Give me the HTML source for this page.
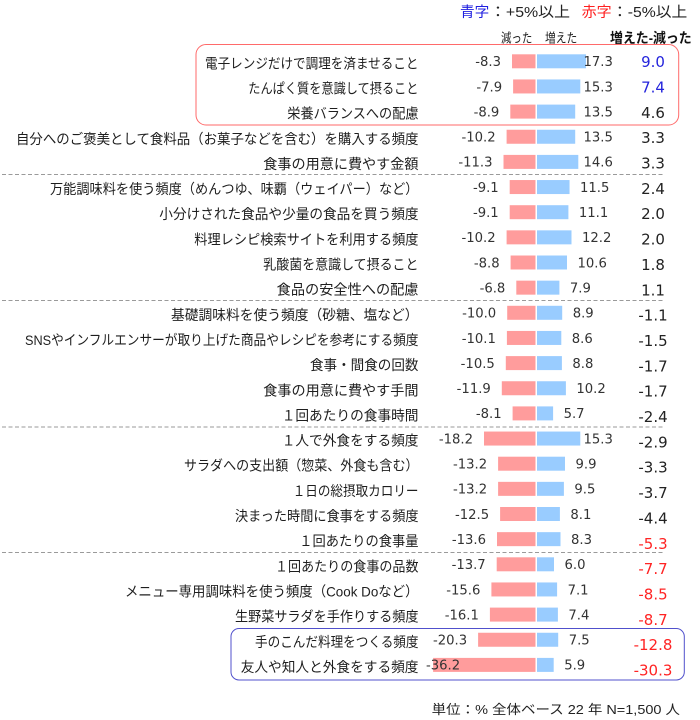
<!DOCTYPE html>
<html><head><meta charset="utf-8"><style>
html,body{margin:0;padding:0;background:#fff;}
svg{display:block;}
.lb{font-family:"Liberation Sans","Noto Sans CJK JP",sans-serif;font-size:14px;fill:#1e1e1e;}
.nm{font-family:"DejaVu Sans","Liberation Sans",sans-serif;font-size:13.2px;fill:#333;}
.rv{font-family:"DejaVu Sans","Liberation Sans",sans-serif;font-size:15px;fill:#222;}
.hd{font-family:"Liberation Sans","Noto Sans CJK JP",sans-serif;fill:#222;}
.r{fill:#FF9C9C;} .b{fill:#99CCFF;}
</style></head><body>
<svg width="700" height="720" viewBox="0 0 700 720" xmlns="http://www.w3.org/2000/svg">
<!-- legend -->
<text class="hd" x="460" y="17" font-size="14.5" textLength="29.3" lengthAdjust="spacingAndGlyphs" style="fill:#1f1fe0">青字</text>
<text class="hd" x="490" y="17" font-size="14.5" textLength="80" lengthAdjust="spacingAndGlyphs">：+5%以上</text>
<text class="hd" x="581.7" y="17" font-size="14.5" textLength="30" lengthAdjust="spacingAndGlyphs" style="fill:#ff2020">赤字</text>
<text class="hd" x="612" y="17" font-size="14.5" textLength="75.3" lengthAdjust="spacingAndGlyphs">：-5%以上</text>
<!-- headers -->
<text class="hd" x="501" y="42.4" font-size="13" textLength="31.3" lengthAdjust="spacingAndGlyphs">減った</text>
<text class="hd" x="545" y="42.4" font-size="13" textLength="32.3" lengthAdjust="spacingAndGlyphs">増えた</text>
<text class="hd" x="610" y="43" font-size="14" font-weight="bold" textLength="81.7" lengthAdjust="spacingAndGlyphs" style="fill:#111">増えた-減った</text>

<!-- boxes -->
<rect x="196" y="44.5" width="482.7" height="80.5" rx="10" ry="10" fill="none" stroke="#FF6A6A" stroke-width="1"/>
<rect x="231" y="628.5" width="453.3" height="51.5" rx="8" ry="8" fill="none" stroke="#5050CC" stroke-width="1"/>

<!-- dashed separators -->
<g stroke="#9a9a9a" stroke-width="1" stroke-dasharray="4,2.5">
<line x1="2" y1="174.5" x2="664" y2="174.5"/>
<line x1="2" y1="300.5" x2="664" y2="300.5"/>
<line x1="2" y1="427" x2="664" y2="427"/>
<line x1="2" y1="552.5" x2="664" y2="552.5"/>
</g>

<!-- category labels -->
<text class="lb" x="205" y="68.3" textLength="213.5" lengthAdjust="spacingAndGlyphs">電子レンジだけで調理を済ませること</text>
<text class="lb" x="248.3" y="93.45" textLength="170.2" lengthAdjust="spacingAndGlyphs">たんぱく質を意識して摂ること</text>
<text class="lb" x="287.3" y="118.6" textLength="131.2" lengthAdjust="spacingAndGlyphs">栄養バランスへの配慮</text>
<text class="lb" x="16" y="143.75" textLength="402.5" lengthAdjust="spacingAndGlyphs">自分へのご褒美として食料品（お菓子などを含む）を購入する頻度</text>
<text class="lb" x="263.3" y="168.9" textLength="155.2" lengthAdjust="spacingAndGlyphs">食事の用意に費やす金額</text>
<text class="lb" x="50" y="194.05" textLength="368.5" lengthAdjust="spacingAndGlyphs">万能調味料を使う頻度（めんつゆ、味覇（ウェイパー）など）</text>
<text class="lb" x="159.3" y="219.2" textLength="259.2" lengthAdjust="spacingAndGlyphs">小分けされた食品や少量の食品を買う頻度</text>
<text class="lb" x="194.3" y="244.35" textLength="224.2" lengthAdjust="spacingAndGlyphs">料理レシピ検索サイトを利用する頻度</text>
<text class="lb" x="263.3" y="269.5" textLength="155.2" lengthAdjust="spacingAndGlyphs">乳酸菌を意識して摂ること</text>
<text class="lb" x="276.7" y="294.65" textLength="141.8" lengthAdjust="spacingAndGlyphs">食品の安全性への配慮</text>
<text class="lb" x="171" y="319.8" textLength="247.5" lengthAdjust="spacingAndGlyphs">基礎調味料を使う頻度（砂糖、塩など）</text>
<text class="lb" x="25" y="344.95" textLength="393.5" lengthAdjust="spacingAndGlyphs">SNSやインフルエンサーが取り上げた商品やレシピを参考にする頻度</text>
<text class="lb" x="310" y="370.1" textLength="108.5" lengthAdjust="spacingAndGlyphs">食事・間食の回数</text>
<text class="lb" x="263.3" y="395.25" textLength="155.2" lengthAdjust="spacingAndGlyphs">食事の用意に費やす手間</text>
<text class="lb" x="281.7" y="420.4" textLength="136.8" lengthAdjust="spacingAndGlyphs">１回あたりの食事時間</text>
<text class="lb" x="281.7" y="445.55" textLength="136.8" lengthAdjust="spacingAndGlyphs">１人で外食をする頻度</text>
<text class="lb" x="184" y="470.7" textLength="234.5" lengthAdjust="spacingAndGlyphs">サラダへの支出額（惣菜、外食も含む）</text>
<text class="lb" x="292.7" y="495.85" textLength="125.8" lengthAdjust="spacingAndGlyphs">１日の総摂取カロリー</text>
<text class="lb" x="235" y="521" textLength="183.5" lengthAdjust="spacingAndGlyphs">決まった時間に食事をする頻度</text>
<text class="lb" x="299.3" y="546.15" textLength="119.2" lengthAdjust="spacingAndGlyphs">１回あたりの食事量</text>
<text class="lb" x="275" y="571.3" textLength="143.5" lengthAdjust="spacingAndGlyphs">１回あたりの食事の品数</text>
<text class="lb" x="125" y="596.45" textLength="293.5" lengthAdjust="spacingAndGlyphs">メニュー専用調味料を使う頻度（Cook Doなど）</text>
<text class="lb" x="235" y="621.6" textLength="183.5" lengthAdjust="spacingAndGlyphs">生野菜サラダを手作りする頻度</text>
<text class="lb" x="255" y="646.75" textLength="163.5" lengthAdjust="spacingAndGlyphs">手のこんだ料理をつくる頻度</text>
<text class="lb" x="240.7" y="671.9" textLength="177.8" lengthAdjust="spacingAndGlyphs">友人や知人と外食をする頻度</text>

<!-- bars -->
<g>
<rect class="r" x="512.0" y="54.3" width="23.5" height="14"/><rect class="b" x="537" y="54.3" width="48.96" height="14"/>
<rect class="r" x="513.1" y="79.45" width="22.4" height="14"/><rect class="b" x="537" y="79.45" width="43.3" height="14"/>
<rect class="r" x="510.3" y="104.6" width="25.2" height="14"/><rect class="b" x="537" y="104.6" width="38.2" height="14"/>
<rect class="r" x="506.6" y="129.75" width="28.9" height="14"/><rect class="b" x="537" y="129.75" width="38.2" height="14"/>
<rect class="r" x="503.5" y="154.9" width="32.0" height="14"/><rect class="b" x="537" y="154.9" width="41.3" height="14"/>
<rect class="r" x="509.7" y="180.05" width="25.8" height="14"/><rect class="b" x="537" y="180.05" width="32.55" height="14"/>
<rect class="r" x="509.7" y="205.2" width="25.8" height="14"/><rect class="b" x="537" y="205.2" width="31.4" height="14"/>
<rect class="r" x="506.6" y="230.35" width="28.9" height="14"/><rect class="b" x="537" y="230.35" width="34.5" height="14"/>
<rect class="r" x="510.6" y="255.5" width="24.9" height="14"/><rect class="b" x="537" y="255.5" width="30.0" height="14"/>
<rect class="r" x="516.3" y="280.65" width="19.2" height="14"/><rect class="b" x="537" y="280.65" width="22.4" height="14"/>
<rect class="r" x="507.2" y="305.8" width="28.3" height="14"/><rect class="b" x="537" y="305.8" width="25.2" height="14"/>
<rect class="r" x="506.9" y="330.95" width="28.6" height="14"/><rect class="b" x="537" y="330.95" width="24.3" height="14"/>
<rect class="r" x="505.8" y="356.1" width="29.7" height="14"/><rect class="b" x="537" y="356.1" width="24.9" height="14"/>
<rect class="r" x="501.8" y="381.25" width="33.7" height="14"/><rect class="b" x="537" y="381.25" width="28.9" height="14"/>
<rect class="r" x="512.6" y="406.4" width="22.9" height="14"/><rect class="b" x="537" y="406.4" width="16.1" height="14"/>
<rect class="r" x="484.0" y="431.55" width="51.5" height="14"/><rect class="b" x="537" y="431.55" width="43.3" height="14"/>
<rect class="r" x="498.1" y="456.7" width="37.4" height="14"/><rect class="b" x="537" y="456.7" width="28.0" height="14"/>
<rect class="r" x="498.1" y="481.85" width="37.4" height="14"/><rect class="b" x="537" y="481.85" width="26.9" height="14"/>
<rect class="r" x="500.1" y="507.0" width="35.4" height="14"/><rect class="b" x="537" y="507.0" width="22.9" height="14"/>
<rect class="r" x="497.0" y="532.15" width="38.5" height="14"/><rect class="b" x="537" y="532.15" width="23.5" height="14"/>
<rect class="r" x="496.7" y="557.3" width="38.8" height="14"/><rect class="b" x="537" y="557.3" width="17.0" height="14"/>
<rect class="r" x="491.4" y="582.45" width="44.1" height="14"/><rect class="b" x="537" y="582.45" width="20.1" height="14"/>
<rect class="r" x="489.9" y="607.6" width="45.6" height="14"/><rect class="b" x="537" y="607.6" width="20.9" height="14"/>
<rect class="r" x="478.1" y="632.75" width="57.4" height="14"/><rect class="b" x="537" y="632.75" width="21.2" height="14"/>
<rect class="r" x="433.1" y="657.9" width="102.4" height="14"/><rect class="b" x="537" y="657.9" width="16.7" height="14"/>
</g>

<!-- negative values -->
<g class="nm" text-anchor="end">
<text class="nm" x="501.0" y="66.1">-8.3</text>
<text class="nm" x="502.1" y="91.25">-7.9</text>
<text class="nm" x="499.3" y="116.4">-8.9</text>
<text class="nm" x="495.6" y="141.55">-10.2</text>
<text class="nm" x="492.5" y="166.7">-11.3</text>
<text class="nm" x="498.7" y="191.85">-9.1</text>
<text class="nm" x="498.7" y="217.0">-9.1</text>
<text class="nm" x="495.6" y="242.15">-10.2</text>
<text class="nm" x="499.6" y="267.3">-8.8</text>
<text class="nm" x="505.3" y="292.45">-6.8</text>
<text class="nm" x="496.2" y="317.6">-10.0</text>
<text class="nm" x="495.9" y="342.75">-10.1</text>
<text class="nm" x="494.8" y="367.9">-10.5</text>
<text class="nm" x="490.8" y="393.05">-11.9</text>
<text class="nm" x="501.6" y="418.2">-8.1</text>
<text class="nm" x="473.0" y="443.35">-18.2</text>
<text class="nm" x="487.1" y="468.5">-13.2</text>
<text class="nm" x="487.1" y="493.65">-13.2</text>
<text class="nm" x="489.1" y="518.8">-12.5</text>
<text class="nm" x="486.0" y="543.95">-13.6</text>
<text class="nm" x="485.7" y="569.1">-13.7</text>
<text class="nm" x="480.4" y="594.25">-15.6</text>
<text class="nm" x="478.9" y="619.4">-16.1</text>
<text class="nm" x="467.1" y="644.55">-20.3</text>
</g>
<text class="nm" x="426" y="669.7">-36.2</text>

<!-- positive values -->
<g>
<text class="nm" x="583.5" y="66.1">17.3</text>
<text class="nm" x="583.5" y="91.25">15.3</text>
<text class="nm" x="583.5" y="116.4">13.5</text>
<text class="nm" x="583.5" y="141.55">13.5</text>
<text class="nm" x="583.5" y="166.7">14.6</text>
<text class="nm" x="580.0" y="191.85">11.5</text>
<text class="nm" x="578.9" y="217.0">11.1</text>
<text class="nm" x="582.0" y="242.15">12.2</text>
<text class="nm" x="577.5" y="267.3">10.6</text>
<text class="nm" x="569.9" y="292.45">7.9</text>
<text class="nm" x="572.7" y="317.6">8.9</text>
<text class="nm" x="571.8" y="342.75">8.6</text>
<text class="nm" x="572.4" y="367.9">8.8</text>
<text class="nm" x="576.4" y="393.05">10.2</text>
<text class="nm" x="563.6" y="418.2">5.7</text>
<text class="nm" x="583.5" y="443.35">15.3</text>
<text class="nm" x="575.5" y="468.5">9.9</text>
<text class="nm" x="574.4" y="493.65">9.5</text>
<text class="nm" x="570.4" y="518.8">8.1</text>
<text class="nm" x="571.0" y="543.95">8.3</text>
<text class="nm" x="564.5" y="569.1">6.0</text>
<text class="nm" x="567.6" y="594.25">7.1</text>
<text class="nm" x="568.4" y="619.4">7.4</text>
<text class="nm" x="568.7" y="644.55">7.5</text>
<text class="nm" x="564.2" y="669.7">5.9</text>
</g>

<!-- difference column -->
<g text-anchor="middle">
<text class="rv" x="653" y="67.1" style="fill:#2424dc">9.0</text>
<text class="rv" x="653" y="92.45" style="fill:#2424dc">7.4</text>
<text class="rv" x="653" y="117.8">4.6</text>
<text class="rv" x="653" y="143.15">3.3</text>
<text class="rv" x="653" y="168.5">3.3</text>
<text class="rv" x="653" y="193.85">2.4</text>
<text class="rv" x="653" y="219.2">2.0</text>
<text class="rv" x="653" y="244.55">2.0</text>
<text class="rv" x="653" y="269.9">1.8</text>
<text class="rv" x="653" y="295.25">1.1</text>
<text class="rv" x="653" y="320.6">-1.1</text>
<text class="rv" x="653" y="345.95">-1.5</text>
<text class="rv" x="653" y="371.3">-1.7</text>
<text class="rv" x="653" y="396.65">-1.7</text>
<text class="rv" x="653" y="422.0">-2.4</text>
<text class="rv" x="653" y="447.35">-2.9</text>
<text class="rv" x="653" y="472.7">-3.3</text>
<text class="rv" x="653" y="498.05">-3.7</text>
<text class="rv" x="653" y="523.4">-4.4</text>
<text class="rv" x="653" y="548.75" style="fill:#ff2424">-5.3</text>
<text class="rv" x="653" y="574.1" style="fill:#ff2424">-7.7</text>
<text class="rv" x="653" y="599.45" style="fill:#ff2424">-8.5</text>
<text class="rv" x="653" y="624.8" style="fill:#ff2424">-8.7</text>
<text class="rv" x="653" y="650.15" style="fill:#ff2424">-12.8</text>
<text class="rv" x="653" y="675.5" style="fill:#ff2424">-30.3</text>
</g>

<!-- footer -->
<text class="hd" x="431.7" y="714" font-size="13" textLength="248.3" lengthAdjust="spacingAndGlyphs">単位：% 全体ベース 22 年 N=1,500 人</text>
</svg>
</body></html>
